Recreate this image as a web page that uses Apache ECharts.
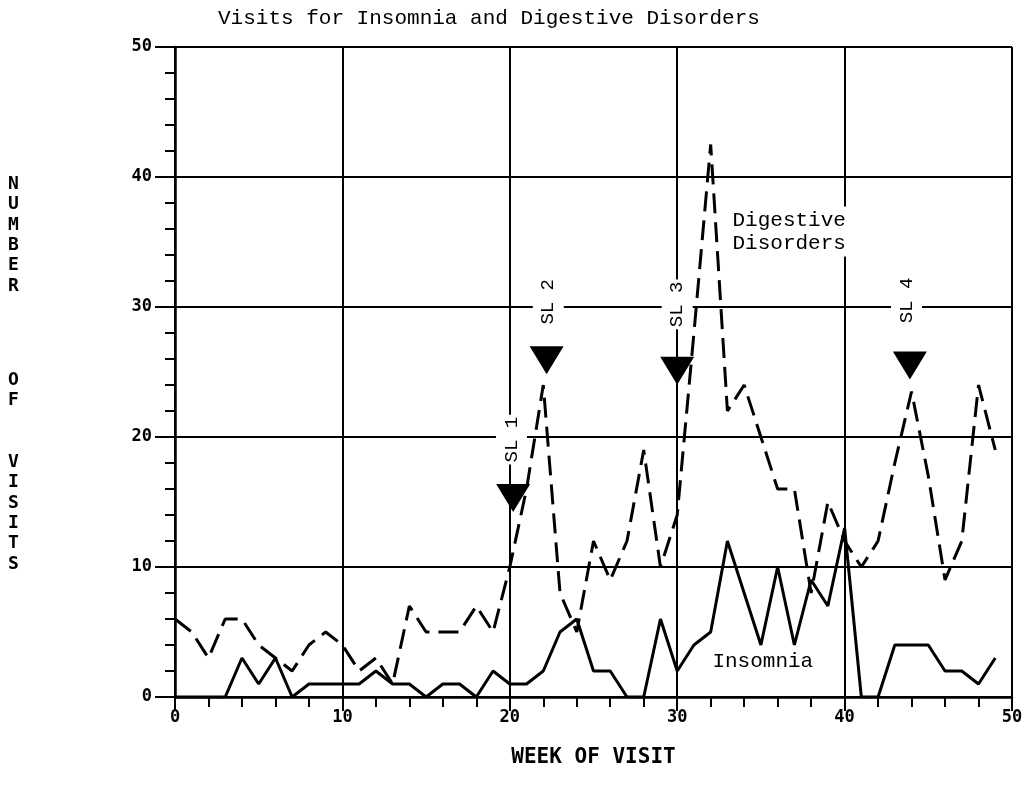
<!DOCTYPE html>
<html>
<head>
<meta charset="utf-8">
<script src="https://cdn.jsdelivr.net/npm/echarts@6/dist/echarts.min.js"></script>
<style>
html,body{margin:0;padding:0;background:#fff;}
#chart{width:1031px;height:786px;}
</style>
</head>
<body>
<div id="chart"></div>
<script>
// Week numbers 0..49
const weeks = [0,1,2,3,4,5,6,7,8,9,10,11,12,13,14,15,16,17,18,19,20,21,22,23,24,25,26,27,28,29,30,31,32,33,34,35,36,37,38,39,40,41,42,43,44,45,46,47,48,49];
const insomnia = [0,0,0,0,3,1,3,0,1,1,1,1,2,1,1,0,1,1,0,2,1,1,2,5,6,2,2,0,0,6,2,4,5,12,8,4,10,4,9,7,13,0,0,4,4,4,2,2,1,3];
const digestive = [6,5,3,6,6,4,3,2,4,5,4,2,3,1,7,5,5,5,7,5,10,16,24,8,5,12,9,12,19,10,14,28,42.5,22,24,20,16,16,8,15,12,10,12,18,23.5,17,9,12,24,19];
// SL event markers
const slNames = ['SL 1','SL 2','SL 3','SL 4'];
const slWeek = [20.2, 22.2, 30.0, 43.9];
const slMarkerY = [15.3, 25.9, 25.1, 25.5];
const slLabelWeek = [20.1, 22.3, 30.0, 43.7];
const slLabelY = [19.8, 30.4, 30.2, 30.5];
const yTicks = [0,10,20,30,40,50];
const xTicks = [0,10,20,30,40,50];

const chart = echarts.init(document.getElementById('chart'));
const monoBold = '"DejaVu Sans Mono", monospace';
const typew = '"Liberation Mono", "Courier New", monospace';

const axisCommon = {
  type: 'value', min: 0, max: 50, interval: 10,
  axisLine: {show: true, lineStyle: {color: '#000', width: 2.5}},
  splitLine: {show: true, lineStyle: {color: '#000', width: 2}},
  minorTick: {show: true, splitNumber: 5, length: 10, lineStyle: {color: '#000', width: 2}},
  axisTick: {show: true, length: 20, lineStyle: {color: '#000', width: 2}},
  axisLabel: {color: '#000', fontFamily: monoBold, fontWeight: 'bold', fontSize: 17}
};

const option = {
  backgroundColor: '#fff',
  animation: false,
  grid: {left: 175, right: 19, top: 47, bottom: 89},
  title: {
    text: 'Visits for Insomnia and Digestive Disorders',
    left: 213, top: 3,
    textStyle: {fontFamily: typew, fontWeight: 'normal', fontSize: 21, color: '#000'}
  },
  xAxis: Object.assign({}, axisCommon, {
    axisTick: {show: true, length: 14, lineStyle: {color: '#000', width: 2}},
    axisLabel: Object.assign({}, axisCommon.axisLabel, {margin: 12,
      formatter: v => xTicks.indexOf(v) >= 0 ? String(v) : ''}),
    name: 'WEEK OF VISIT', nameLocation: 'middle', nameGap: 50,
    nameTextStyle: {fontFamily: monoBold, fontWeight: 'bold', fontSize: 21, color: '#000'}
  }),
  yAxis: Object.assign({}, axisCommon, {
    axisLabel: Object.assign({}, axisCommon.axisLabel, {margin: 23,
      formatter: v => yTicks.indexOf(v) >= 0 ? String(v) : ''})
  }),
  graphic: [
    {type: 'text', left: 8, top: 174, style: {text: 'N\nU\nM\nB\nE\nR', font: 'bold 18px "DejaVu Sans Mono"', lineHeight: 20.4, fill: '#000'}},
    {type: 'text', left: 8, top: 370, style: {text: 'O\nF', font: 'bold 18px "DejaVu Sans Mono"', lineHeight: 20.4, fill: '#000'}},
    {type: 'text', left: 8, top: 452, style: {text: 'V\nI\nS\nI\nT\nS', font: 'bold 18px "DejaVu Sans Mono"', lineHeight: 20.4, fill: '#000'}}
  ],
  series: [
    {
      name: 'Insomnia', type: 'line', symbol: 'none', z: 3,
      data: weeks.map((w, i) => [w, insomnia[i]]),
      lineStyle: {color: '#000', width: 3}
    },
    {
      name: 'Digestive Disorders', type: 'line', symbol: 'none', z: 3,
      data: weeks.map((w, i) => [w, digestive[i]]),
      lineStyle: {color: '#000', width: 3, type: [20, 9]}
    },
    {
      name: 'SL markers', type: 'scatter', z: 5,
      symbol: 'triangle', symbolRotate: 180, symbolSize: [34, 28],
      itemStyle: {color: '#000', opacity: 1},
      data: slWeek.map((w, i) => [w, slMarkerY[i]])
    },
    {
      name: 'SL labels', type: 'scatter', z: 6, symbolSize: 0.1,
      itemStyle: {color: 'rgba(0,0,0,0)', opacity: 1},
      data: slLabelWeek.map((w, i) => ({value: [w, slLabelY[i]], name: slNames[i]})),
      label: {show: true, position: 'inside', rotate: 90, formatter: p => p.name,
        fontFamily: typew, fontSize: 19, color: '#000', opacity: 1,
        backgroundColor: '#fff', padding: [6, 2, 6, 2]}
    },
    {
      name: 'annotations', type: 'scatter', z: 6, symbolSize: 0.1,
      itemStyle: {color: 'rgba(0,0,0,0)', opacity: 1},
      data: [
        {value: [33.3, 35.8], name: 'Digestive\nDisorders'},
        {value: [32.1, 2.7], name: 'Insomnia'}
      ],
      label: {show: true, position: 'right', distance: 0, formatter: p => p.name,
        fontFamily: typew, fontSize: 21, lineHeight: 23, color: '#000', opacity: 1,
        backgroundColor: '#fff', padding: [2, 2, 2, 0]}
    }
  ]
};
chart.setOption(option);
</script>
</body>
</html>
